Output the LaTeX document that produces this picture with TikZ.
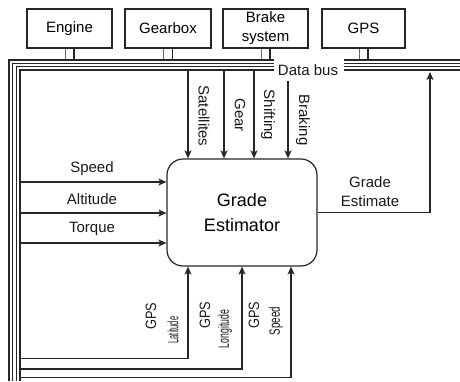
\documentclass[tikz,border=0pt]{standalone}
\usepackage{fontspec}
\setmainfont{Liberation Sans}
\usetikzlibrary{arrows.meta,calc}
\begin{document}
\begin{tikzpicture}[x=1pt,y=-1pt,
  ln/.style={line width=1.2pt, draw=black!85},
  arr/.style={ln,-{Stealth[length=8pt,width=7pt,inset=2pt]}},
  unit/.style={draw=black!85,line width=1.2pt,minimum height=39pt,inner sep=0pt,
    font=\fontsize{15}{19}\selectfont,align=center},
  lbl/.style={inner sep=0pt,font=\fontsize{15}{19}\selectfont,text=black!90,align=center},
  bus/.style={line width=1.2pt, draw=black!85}]
\useasboundingbox (0,0) rectangle (460,381);

% peripheral units
\node[unit,minimum width=85pt] (engine) at (69.5,28.5) {Engine};
\node[unit,minimum width=86pt] (gearbox) at (168,28.5) {Gearbox};
\node[unit,minimum width=85pt] (brake) at (265.5,28.5) {Brake\\system};
\node[unit,minimum width=83pt] (gps) at (363.5,28.5) {GPS};

% unit to bus connectors
\foreach \u in {engine,gearbox,brake,gps}{
  \draw[ln,line width=0.9pt,draw=black!60] ([xshift=-4.5pt]\u.south) -- ++(0,12);
  \draw[ln,line width=1.4pt] ([xshift=4.5pt]\u.south) -- ++(0,12);
}

% data bus
\draw[bus,line width=1.9pt] (274,60) -| (9,381);
\draw[bus] (274,63.3) -| (12.7,381);
\draw[bus] (274,66.6) -| (16.4,381);
\draw[bus] (274,70) -| (20,381);
\draw[bus,line width=1.9pt] (344,60) -- (460,60);
\draw[bus] (344,63.3) -- (460,63.3);
\draw[bus] (344,66.6) -- (460,66.6);
\draw[bus] (344,70) -- (460,70);
\node[lbl] (databus) at (308,70) {Data bus};

% estimator
\node[draw=black!85,line width=1.2pt,rounded corners=16pt,minimum width=150pt,minimum height=107pt,
  inner sep=0pt,align=center,font=\fontsize{18}{25}\selectfont] (ge) at (242,212.5) {Grade\\Estimator};

% top inputs
\coordinate (sat) at (188,70);
\coordinate (gear) at (224,70);
\coordinate (shift) at (254,70);
\coordinate (brk) at (288,81);
\draw[arr] (sat) -- (sat |- ge.north);
\draw[arr] (gear) -- (gear |- ge.north);
\draw[arr] (shift) -- (shift |- ge.north);
\draw[arr] (brk) -- (brk |- ge.north);
\node[lbl,rotate=-90] (lsat) at (204,116) {Satellites};
\node[lbl,rotate=-90] (lgear) at (240,115) {Gear};
\node[lbl,rotate=-90] (lshift) at (268,115) {Shifting};
\node[lbl,rotate=-90] (lbrk) at (303,120) {Braking};

% left inputs
\coordinate (sp) at (20,182);
\coordinate (alt) at (20,213);
\coordinate (tq) at (20,243);
\draw[arr] (sp) -- (sp -| ge.west);
\draw[arr] (alt) -- (alt -| ge.west);
\draw[arr] (tq) -- (tq -| ge.west);
\node[lbl] (lsp) at (92,169) {Speed};
\node[lbl] (lalt) at (92,199) {Altitude};
\node[lbl] (ltq) at (92,229) {Torque};

% output
\coordinate (outbus) at (430,72);
\draw[arr] (ge.east) -| (outbus);
\node[lbl] (lout) at (370,192) {Grade\\Estimate};

% bottom inputs
\coordinate (b1) at (20,358.5);
\coordinate (b2) at (20,369);
\coordinate (b3) at (20,377.5);
\coordinate (t1) at (188,0);
\coordinate (t2) at (242,0);
\coordinate (t3) at (291,0);
\draw[arr] (b1) -| (t1 |- ge.south);
\draw[arr] (b2) -| (t2 |- ge.south);
\draw[arr] (b3) -| (t3 |- ge.south);
\node[lbl,rotate=90] (g1) at (151,316) {\scalebox{0.85}[1]{GPS}};
\node[lbl,rotate=90] (w1) at (173,330) {\scalebox{0.5}[1]{Latitude}};
\node[lbl,rotate=90] (g2) at (205,315) {\scalebox{0.85}[1]{GPS}};
\node[lbl,rotate=90] (w2) at (225,329) {\scalebox{0.58}[1]{Longitude}};
\node[lbl,rotate=90] (g3) at (254,315) {\scalebox{0.85}[1]{GPS}};
\node[lbl,rotate=90] (w3) at (276,321) {\scalebox{0.65}[1]{Speed}};
\end{tikzpicture}
\end{document}
